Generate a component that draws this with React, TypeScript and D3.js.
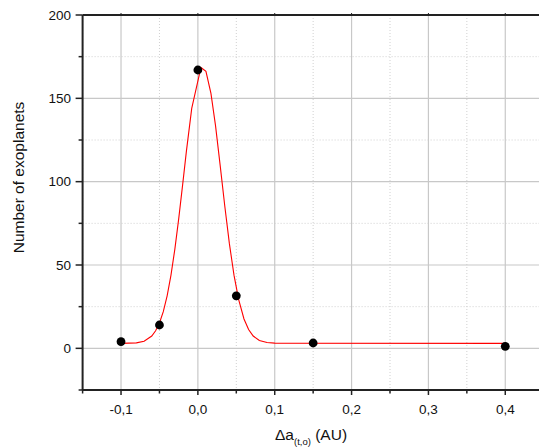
import React from 'react';
import * as d3 from 'd3';

const pointX = [-0.1, -0.05, 0.0, 0.05, 0.15, 0.4];
const pointY = [4, 14, 167, 31.5, 3.2, 1.2];

const fitX = [-0.1, -0.08, -0.07, -0.06, -0.055, -0.05, -0.045, -0.04, -0.035, -0.03, -0.025, -0.02, -0.015, -0.008, 0.004, 0.0105, 0.017, 0.023, 0.029, 0.035, 0.041, 0.047, 0.053, 0.06, 0.066, 0.072, 0.08, 0.09, 0.1, 0.4];
const fitY = [3.0, 3.3, 4.3, 7.4, 10.5, 15.2, 22, 31.5, 43.9, 59.4, 77.5, 97.5, 118, 144, 168.5, 166.2, 153, 133.5, 109.8, 85.4, 62.8, 43.9, 29.4, 17.6, 11.3, 7.4, 4.7, 3.5, 3.1, 3.0];

const xMajor = [-0.1, 0, 0.1, 0.2, 0.3, 0.4];
const xTickLabels = ['-0,1', '0,0', '0,1', '0,2', '0,3', '0,4'];
const xMinor = [-0.15, -0.05, 0.05, 0.15, 0.25, 0.35];
const yMajor = [0, 50, 100, 150, 200];
const yTickLabels = ['0', '50', '100', '150', '200'];
const yMinor = [-25, 25, 75, 125, 175];

const W = 539;
const H = 447;
const FONT = '"Liberation Sans", Arial, sans-serif';

export default function App() {
  const x = d3.scaleLinear().domain([-0.15, 0.45]).range([82.6, 543.7]);
  const y = d3.scaleLinear().domain([-25, 200]).range([390, 15]);
  const x0 = x(-0.15);
  const x1 = x(0.45);
  const y0 = y(-25);
  const y1 = y(200);

  const line = d3
    .line<number>()
    .x((_, i) => x(fitX[i]))
    .y((d) => y(d));

  const axisColor = '#222';

  return (
    <div style={{ position: 'absolute', left: 0, top: 0 }}>
      <svg width={W} height={H} style={{ display: 'block', background: '#fff' }}>
        <rect x={0} y={0} width={W} height={H} fill="#fff" />
        {/* minor grid */}
        {xMinor.map((v) => (
          <line key={'xm' + v} x1={x(v)} x2={x(v)} y1={y1} y2={y0} stroke="#d0d0d0" strokeWidth={1} strokeDasharray="1,2" />
        ))}
        {yMinor.map((v) => (
          <line key={'ym' + v} x1={x0} x2={x1} y1={y(v)} y2={y(v)} stroke="#d0d0d0" strokeWidth={1} strokeDasharray="1,2" />
        ))}
        {/* major grid */}
        {xMajor.map((v) => (
          <line key={'xg' + v} x1={x(v)} x2={x(v)} y1={y1} y2={y0} stroke="#c8c8c8" strokeWidth={1.2} />
        ))}
        {yMajor.map((v) => (
          <line key={'yg' + v} x1={x0} x2={x1} y1={y(v)} y2={y(v)} stroke="#c8c8c8" strokeWidth={1.2} />
        ))}
        {/* fit curve */}
        <path d={line(fitY) || ''} fill="none" stroke="#ff0000" strokeWidth={1.1} />
        {/* points */}
        {pointX.map((v, i) => (
          <circle key={'p' + i} cx={x(v)} cy={y(pointY[i])} r={4.4} fill="#000" />
        ))}
        {/* axes */}
        <line x1={x0} x2={x1} y1={y1} y2={y1} stroke={axisColor} strokeWidth={2} />
        <line x1={x0} x2={x1} y1={y0} y2={y0} stroke={axisColor} strokeWidth={2} />
        <line x1={x0} x2={x0} y1={y1} y2={y0} stroke={axisColor} strokeWidth={2} />
        {/* x ticks */}
        {xMajor.map((v) => (
          <line key={'xt' + v} x1={x(v)} x2={x(v)} y1={y0} y2={y0 + 5} stroke={axisColor} strokeWidth={1.5} />
        ))}
        {xMinor.map((v) => (
          <line key={'xtm' + v} x1={x(v)} x2={x(v)} y1={y0} y2={y0 + 3.5} stroke={axisColor} strokeWidth={1.5} />
        ))}
        {xMajor.map((v) => (
          <line key={'xtt' + v} x1={x(v)} x2={x(v)} y1={y1} y2={y1 - 2} stroke={axisColor} strokeWidth={1} />
        ))}
        {xMajor.map((v, i) => (
          <text key={'xl' + v} x={x(v)} y={413.5} textAnchor="middle" fontFamily={FONT} fontSize={13.5} fill="#111">
            {xTickLabels[i]}
          </text>
        ))}
        {/* y ticks */}
        {yMajor.map((v) => (
          <line key={'yt' + v} x1={x0 - 7} x2={x0} y1={y(v)} y2={y(v)} stroke={axisColor} strokeWidth={1.5} />
        ))}
        {yMinor.map((v) => (
          <line key={'ytm' + v} x1={x0 - 4} x2={x0} y1={y(v)} y2={y(v)} stroke={axisColor} strokeWidth={1.5} />
        ))}
        {yMajor.map((v, i) => (
          <text key={'yl' + v} x={71} y={y(v)} dy="0.35em" textAnchor="end" fontFamily={FONT} fontSize={13.5} fill="#111">
            {yTickLabels[i]}
          </text>
        ))}
        {/* axis titles */}
        <text transform="translate(23.5,177.5) rotate(-90)" textAnchor="middle" fontFamily={FONT} fontSize={15.5} fill="#111">
          Number of exoplanets
        </text>
        <text x={275} y={439.5} fontFamily={FONT} fontSize={15.5} fill="#111">
          <tspan>Δa</tspan>
          <tspan fontSize={9.5} dy={5}>(t,o)</tspan>
          <tspan dy={-5}> (AU)</tspan>
        </text>
      </svg>
    </div>
  );
}
